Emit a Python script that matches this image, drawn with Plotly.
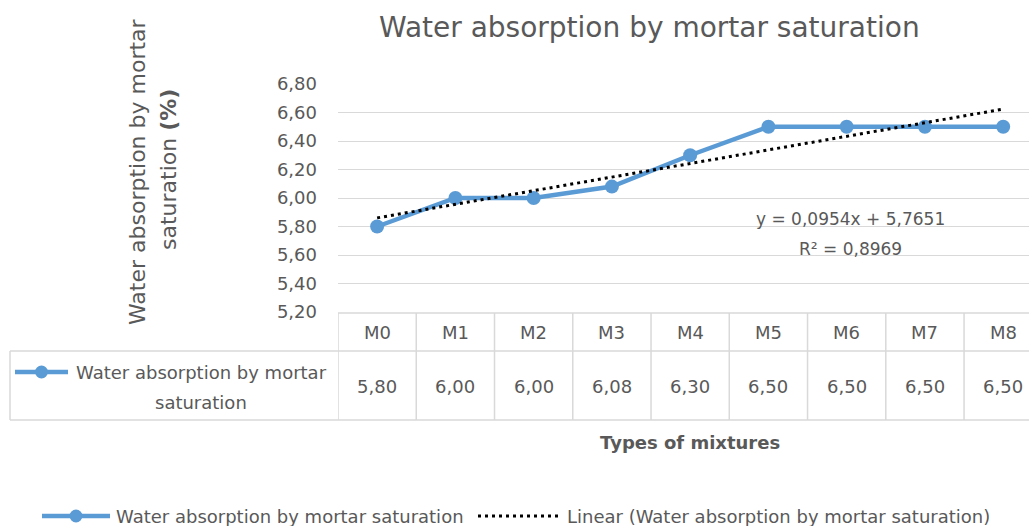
import plotly.graph_objects as go

# data
mixtures = ["M0", "M1", "M2", "M3", "M4", "M5", "M6", "M7", "M8"]
absorption = [5.80, 6.00, 6.00, 6.08, 6.30, 6.50, 6.50, 6.50, 6.50]
series_name = "Water absorption by mortar saturation"
y_ticks = [5.20, 5.40, 5.60, 5.80, 6.00, 6.20, 6.40, 6.60, 6.80]
# Excel linear trendline as printed on the chart
trend_slope = 0.0954
trend_intercept = 5.7651
trend_r2 = 0.8969

BLUE = "#5B9BD5"
GREY = "#595959"
LINE = "#D9D9D9"
FONT = "DejaVu Sans"

# plot area in pixels: left 338, top 84, bottom 312, width 691
def px_x(p):
    return (p - 338) / 691.0

def px_y(p):
    return (312 - p) / 228.0

def fmt(v, n=2):
    return f"{v:.{n}f}".replace(".", ",")

trend = [trend_slope * (i + 1) + trend_intercept for i in range(len(mixtures))]

fig = go.Figure()
fig.add_trace(go.Scatter(
    x=mixtures, y=absorption, name=series_name, mode="lines+markers",
    line=dict(color=BLUE, width=4.5), marker=dict(color=BLUE, size=14),
    cliponaxis=False,
))
fig.add_trace(go.Scatter(
    x=mixtures, y=trend, name=f"Linear ({series_name})", mode="lines",
    line=dict(color="black", width=3, dash="3px,4px"),
))

def note(text, x, y, size, anchor="center", **kw):
    return dict(text=text, xref="paper", yref="paper", x=px_x(x), y=px_y(y),
                xanchor=anchor, yanchor="middle", showarrow=False,
                font=dict(size=size, color=GREY), **kw)

annotations = [
    note("Water absorption by mortar saturation", 649, 28, 28),
    note("Water absorption by mortar", 137, 172, 22, textangle=-90),
    note("saturation <b>(%)</b>", 168, 170, 22, textangle=-90),
    note("<b>Types of mixtures</b>", 690, 442, 18),
    note(f"y = {fmt(trend_slope, 4)}x + {fmt(trend_intercept, 4)}", 850, 219, 17),
    note(f"R² = {fmt(trend_r2, 4)}", 850, 249, 17),
    note("Water absorption by mortar", 201, 372, 18),
    note("saturation", 201, 402, 18),
    # bottom legend texts
    note(series_name, 114, 516, 18, anchor="left"),
    note(f"Linear ({series_name})", 565, 516, 18, anchor="left"),
]
# data table: header and values
for m, v in zip(mixtures, absorption):
    annotations.append(dict(text=m, x=m, xref="x", yref="paper", y=px_y(332),
                            xanchor="center", yanchor="middle",
                            showarrow=False, font=dict(size=18, color=GREY)))
    annotations.append(dict(text=fmt(v), x=m, xref="x", yref="paper", y=px_y(386),
                            xanchor="center", yanchor="middle",
                            showarrow=False, font=dict(size=18, color=GREY)))

shapes = []
lw = 1.5
# table borders
shapes.append(dict(type="line", xref="paper", yref="paper", x0=0, x1=1,
                   y0=px_y(313), y1=px_y(313), line=dict(color=LINE, width=lw)))
for yy in (351, 420):
    shapes.append(dict(type="line", xref="paper", yref="paper", x0=px_x(10), x1=1,
                       y0=px_y(yy), y1=px_y(yy), line=dict(color=LINE, width=lw)))
shapes.append(dict(type="line", xref="paper", yref="paper", x0=px_x(10), x1=px_x(10),
                   y0=px_y(351), y1=px_y(420), line=dict(color=LINE, width=lw)))
for i in range(len(mixtures)):
    shapes.append(dict(type="line", xref="x", yref="paper", x0=i - 0.5, x1=i - 0.5,
                       y0=px_y(313), y1=px_y(420), line=dict(color=LINE, width=lw)))

def series_key(x0, x1, y):
    cx = (x0 + x1) / 2
    return [
        dict(type="line", xref="paper", yref="paper", x0=px_x(x0), x1=px_x(x1),
             y0=px_y(y), y1=px_y(y), line=dict(color=BLUE, width=4.5)),
        dict(type="circle", xref="paper", yref="paper", fillcolor=BLUE,
             line=dict(color=BLUE, width=0),
             x0=px_x(cx - 6.5), x1=px_x(cx + 6.5), y0=px_y(y - 6.5), y1=px_y(y + 6.5)),
    ]

# legend key inside the table and bottom legend keys
shapes += series_key(15, 68, 372)
shapes += series_key(42, 110, 516)
shapes.append(dict(type="line", xref="paper", yref="paper", x0=px_x(478), x1=px_x(560),
                   y0=px_y(516), y1=px_y(516),
                   line=dict(color="black", width=3, dash="3px,4px")))

fig.update_layout(
    width=1029, height=526,
    margin=dict(l=338, r=0, t=84, b=214, autoexpand=False),
    paper_bgcolor="white", plot_bgcolor="white",
    separators=",.",
    font=dict(family=FONT, color=GREY),
    showlegend=False,
    annotations=annotations, shapes=shapes,
)
fig.update_xaxes(type="category", range=[-0.5, 8.33], showticklabels=False,
                 showgrid=False, zeroline=False, showline=False)
fig.update_yaxes(range=[5.2, 6.8], tickvals=y_ticks, tickformat=".2f",
                 showgrid=True, gridcolor=LINE, gridwidth=1, zeroline=False,
                 showline=False, ticklabelstandoff=20,
                 tickfont=dict(size=18, color=GREY))

fig.write_html("out.html", config={"displayModeBar": False},
               post_script="document.body.style.margin='0';")
